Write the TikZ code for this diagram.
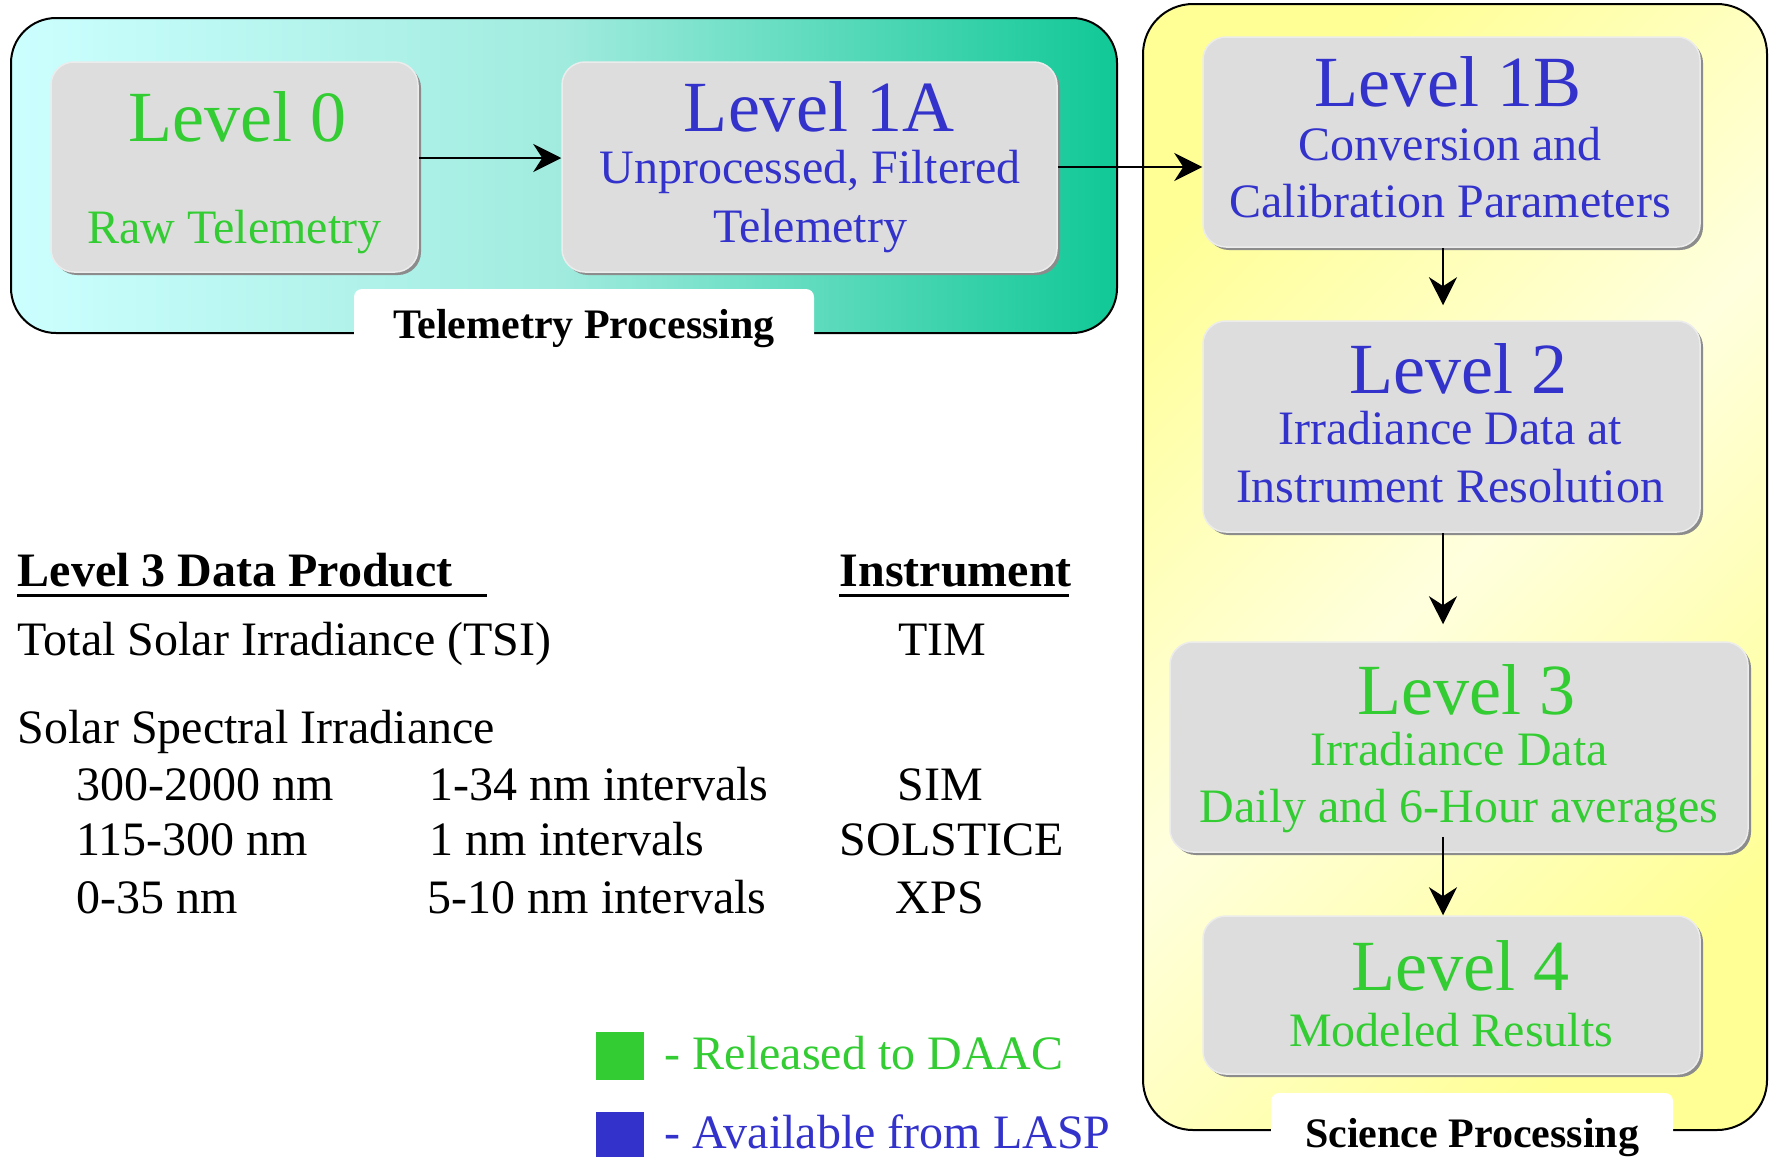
\documentclass[tikz,border=0pt]{standalone}
\usepackage{fontspec}
\setmainfont{Liberation Serif}
\usetikzlibrary{shadows,arrows.meta}
\definecolor{lgreen}{RGB}{51,204,51}
\definecolor{lblue}{RGB}{51,51,204}
\definecolor{boxgray}{RGB}{221,221,221}
\definecolor{boxedge}{RGB}{236,236,236}
\definecolor{tcyan}{RGB}{204,255,255}
\definecolor{tmid}{RGB}{160,235,222}
\definecolor{tteal}{RGB}{16,200,150}
\definecolor{yel}{RGB}{255,255,150}
\definecolor{yelpale}{RGB}{255,255,222}
\newcommand\lvlfont{\fontsize{20.5pt}{24pt}\selectfont}
\newcommand\subtxt{\fontsize{13.66pt}{16pt}\selectfont}
\newcommand\grpfont{\fontsize{11.95pt}{14pt}\selectfont\bfseries}
\begin{document}
\begin{tikzpicture}[x=0.1mm,y=-0.1mm,
  lvlbox/.style={draw=boxedge, line width=0.15mm, fill=boxgray, rounded corners=2.3mm, inner sep=0pt,
    drop shadow={shadow xshift=0.3mm, shadow yshift=-0.3mm, fill=black!45, opacity=1}},
  outer/.style={draw=black, line width=0.2mm, inner sep=0pt},
  grplabel/.style={fill=white, rounded corners=0.8mm, inner sep=0pt, anchor=base, font=\grpfont},
  txt/.style={inner sep=0pt, anchor=base},
  txtw/.style={inner sep=0pt, anchor=base west},
  arr/.style={line width=0.25mm, -{Stealth[length=2.8mm, width=2.8mm, inset=0.9mm]}},
  legsq/.style={inner sep=0pt, minimum width=4.8mm, minimum height=4.8mm, anchor=north west}]
\useasboundingbox (0,0) rectangle (1769,1156);
% group boxes
\node[outer, rounded corners=4.5mm, left color=tcyan, right color=tteal, middle color=tmid,
  minimum width=110.6mm, minimum height=31.5mm] (tele) at (564,175.5) {};
\node[outer, rounded corners=5mm, top color=yel, bottom color=yel, middle color=yelpale, shading angle=45,
  minimum width=62.4mm, minimum height=112.6mm] (sci) at (1455,567) {};
\node[grplabel, minimum width=46mm, text height=4.9mm, text depth=1.8mm] (telelab) at (584,338) {Telemetry Processing};
\node[grplabel, minimum width=40.2mm, text height=5.4mm, text depth=2mm] (scilab) at (1472,1147) {Science Processing};
% level boxes
\node[lvlbox, minimum width=36.7mm, minimum height=21mm] (l0) at (234.5,167) {};
\node[lvlbox, minimum width=49.5mm, minimum height=21mm] (l1a) at (809.5,167) {};
\node[lvlbox, minimum width=49.7mm, minimum height=21mm] (l1b) at (1451.5,142) {};
\node[lvlbox, minimum width=49.7mm, minimum height=21.1mm] (l2) at (1451.5,426.5) {};
\node[lvlbox, minimum width=57.8mm, minimum height=21mm] (l3) at (1459,747) {};
\node[lvlbox, minimum width=49.7mm, minimum height=15.8mm] (l4) at (1451.5,995) {};
% connectors
\coordinate (ax) at (1443,0);
\draw[arr] ([yshift=0.9mm]l0.east) -- ([yshift=0.9mm]l1a.west);
\draw[arr] (l1a.east) -- (l1a.east -| l1b.west);
\draw[arr, shorten >=1.5mm] (ax |- l1b.south) -- (ax |- l2.north);
\draw[arr, shorten >=1.7mm] (ax |- l2.south) -- (ax |- l3.north);
\draw[arr, shorten <=-1.6mm] (ax |- l3.south) -- (ax |- l4.north);
% level texts
\node[txt, text=lgreen, font=\lvlfont] (l0t1) at (237.5,141) {Level 0};
\node[txt, text=lgreen, font=\subtxt] (l0t2) at (234.5,243) {Raw Telemetry};
\node[txt, text=lblue, font=\lvlfont] (l1at1) at (819,131) {Level 1A};
\node[txt, text=lblue, font=\subtxt] (l1at2) at (810,183) {Unprocessed, Filtered};
\node[txt, text=lblue, font=\subtxt] (l1at3) at (810,242) {Telemetry};
\node[txt, text=lblue, font=\lvlfont] (l1bt1) at (1448,106) {Level 1B};
\node[txt, text=lblue, font=\subtxt] (l1bt2) at (1450,160) {Conversion and};
\node[txt, text=lblue, font=\subtxt] (l1bt3) at (1450,217) {Calibration Parameters};
\node[txt, text=lblue, font=\lvlfont] (l2t1) at (1458,393) {Level 2};
\node[txt, text=lblue, font=\subtxt] (l2t2) at (1450,444) {Irradiance Data at};
\node[txt, text=lblue, font=\subtxt] (l2t3) at (1450,502) {Instrument Resolution};
\node[txt, text=lgreen, font=\lvlfont] (l3t1) at (1466,714) {Level 3};
\node[txt, text=lgreen, font=\subtxt] (l3t2) at (1459,765) {Irradiance Data};
\node[txt, text=lgreen, font=\subtxt] (l3t3) at (1459,822) {Daily and 6-Hour averages};
\node[txt, text=lgreen, font=\lvlfont] (l4t1) at (1460,990) {Level 4};
\node[txt, text=lgreen, font=\subtxt] (l4t2) at (1451,1046) {Modeled Results};
% table
\node[txtw, font=\subtxt\bfseries] (h1) at (17,586) {Level 3 Data Product};
\node[txtw, font=\subtxt\bfseries] (h2) at (839,586) {Instrument};
\draw[line width=0.3mm] (17,595) -- (487,595);
\draw[line width=0.3mm] (839,595) -- (1069,595);
\node[txtw, font=\subtxt] (r1a) at (17,655) {Total Solar Irradiance (TSI)};
\node[txt, font=\subtxt] (r1c) at (942,655) {TIM};
\node[txtw, font=\subtxt] (r2a) at (17,743) {Solar Spectral Irradiance};
\node[txtw, font=\subtxt] (r3a) at (76,800) {300-2000 nm};
\node[txtw, font=\subtxt] (r3b) at (429,800) {1-34 nm intervals};
\node[txt, font=\subtxt] (r3c) at (940,800) {SIM};
\node[txtw, font=\subtxt] (r4a) at (76,855) {115-300 nm};
\node[txtw, font=\subtxt] (r4b) at (429,855) {1 nm intervals};
\node[txtw, font=\subtxt] (r4c) at (839,855) {SOLSTICE};
\node[txtw, font=\subtxt] (r5a) at (76,913) {0-35 nm};
\node[txtw, font=\subtxt] (r5b) at (427,913) {5-10 nm intervals};
\node[txt, font=\subtxt] (r5c) at (940,913) {XPS};
% legend
\node[legsq, fill=lgreen] (sqg) at (595,1031) {};
\node[legsq, fill=lblue] (sqb) at (595,1111) {};
\node[txtw, text=lgreen, font=\subtxt] (legg) at (664,1069) {- Released to DAAC};
\node[txtw, text=lblue, font=\subtxt] (legb) at (664,1148) {- Available from LASP};
\end{tikzpicture}
\end{document}
